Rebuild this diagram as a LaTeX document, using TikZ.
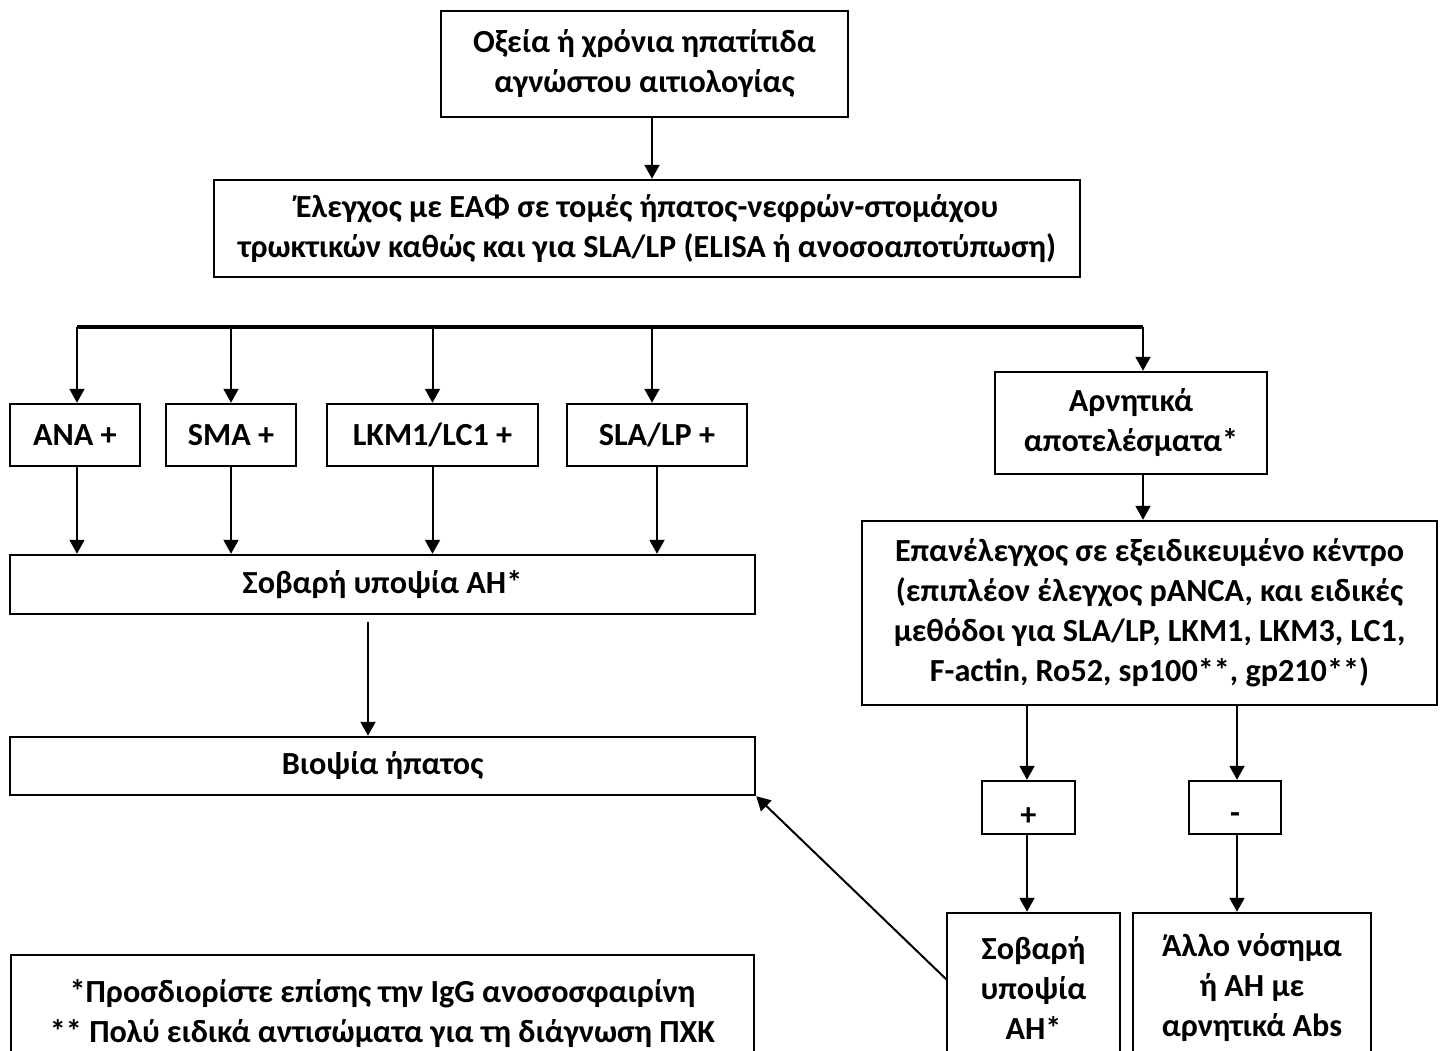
\documentclass[tikz,border=0pt]{standalone}
\usepackage{fontspec}
\setmainfont{Carlito}
\usetikzlibrary{arrows.meta}
\newcommand\mybox[6]{\node[box, minimum width={(#4-#2)*0.5pt}, minimum height={(#5-#3)*0.5pt}] (#1) at ({(#2+#4)/2},{(#3+#5)/2}) {#6};}
\begin{document}
\begin{tikzpicture}[x=0.5pt,y=-0.5pt,
  box/.style={draw, line width=1.25pt, inner sep=0pt, align=center, font=\fontsize{16.1}{20}\selectfont\bfseries},
  arr/.style={line width=1pt, -{Triangle[length=7pt,width=7.5pt]}},
  bus/.style={line width=1.7pt}]
\clip (0,0) rectangle (1440,1050);
\fill[white] (0,0) rectangle (1440,1050);
\mybox{top}{441}{11}{848}{117}{Οξεία ή χρόνια ηπατίτιδα\\αγνώστου αιτιολογίας}
\mybox{test}{214}{180}{1080}{277}{Έλεγχος με ΕΑΦ σε τομές ήπατος-νεφρών-στομάχου\\τρωκτικών καθώς και για SLA/LP (ELISA ή ανοσοαποτύπωση)}
\mybox{ana}{10}{404}{140}{466}{ANA +}
\mybox{sma}{166}{404}{296}{466}{SMA +}
\mybox{lkm}{327}{404}{538}{466}{LKM1/LC1 +}
\mybox{sla}{567}{404}{747}{466}{SLA/LP +}
\mybox{neg}{995}{372}{1267}{474}{Αρνητικά\\αποτελέσματα*}
\mybox{susp}{10}{555}{755}{614}{Σοβαρή υποψία ΑΗ*}
\mybox{biop}{10}{737}{755}{795}{Βιοψία ήπατος}
\mybox{retest}{862}{521}{1437}{705}{Επανέλεγχος σε εξειδικευμένο κέντρο\\(επιπλέον έλεγχος pANCA, και ειδικές\\μεθόδοι για SLA/LP, LKM1, LKM3, LC1,\\F-actin, Ro52, sp100**, gp210**)}
\mybox{pos}{982}{781}{1075}{834}{\raisebox{-9pt}[0pt][0pt]{+}}
\mybox{minus}{1189}{781}{1281}{834}{\raisebox{-8.2pt}[0pt][0pt]{-}}
\mybox{susp2}{947}{913}{1120}{1063}{Σοβαρή\\υποψία\\ΑΗ*}
\mybox{other}{1133}{913}{1371}{1063}{Άλλο νόσημα\\ή ΑΗ με\\αρνητικά Abs}
\mybox{note}{11}{955}{754}{1071}{*Προσδιορίστε επίσης την IgG ανοσοσφαιρίνη\\** Πολύ ειδικά αντισώματα για τη διάγνωση ΠΧΚ}
% columns
\coordinate (c652) at (652,0);
\coordinate (busL) at (77,327);
\coordinate (busR) at (1143,327);
\coordinate (cp) at (1027,0);
\coordinate (cm) at (1237,0);
\coordinate (mid) at (368,622);
\coordinate (diag) at (947,980);
\draw[arr] (top.south -| c652) -- (test.north -| c652);
\draw[bus] (busL) -- (busR);
\draw[arr] (busL) -- (busL |- ana.north);
\draw[arr] (sma.north |- busL) -- (sma.north);
\draw[arr] (lkm.north |- busL) -- (lkm.north);
\draw[arr] (c652 |- busL) -- (c652 |- sla.north);
\draw[arr] (busR) -- (busR |- neg.north);
\draw[arr] (busL |- ana.south) -- (busL |- susp.north);
\draw[arr] (sma.south) -- (sma.south |- susp.north);
\draw[arr] (lkm.south) -- (lkm.south |- susp.north);
\draw[arr] (sla.south) -- (sla.south |- susp.north);
\draw[arr] (mid) -- (mid |- biop.north);
\draw[arr] (busR |- neg.south) -- (busR |- retest.north);
\draw[arr] (cp |- retest.south) -- (cp |- pos.north);
\draw[arr] (cm |- retest.south) -- (cm |- minus.north);
\draw[arr] (cp |- pos.south) -- (cp |- susp2.north);
\draw[arr] (cm |- minus.south) -- (cm |- other.north);
\draw[arr] (diag) -- (biop.south east);
\end{tikzpicture}
\end{document}
